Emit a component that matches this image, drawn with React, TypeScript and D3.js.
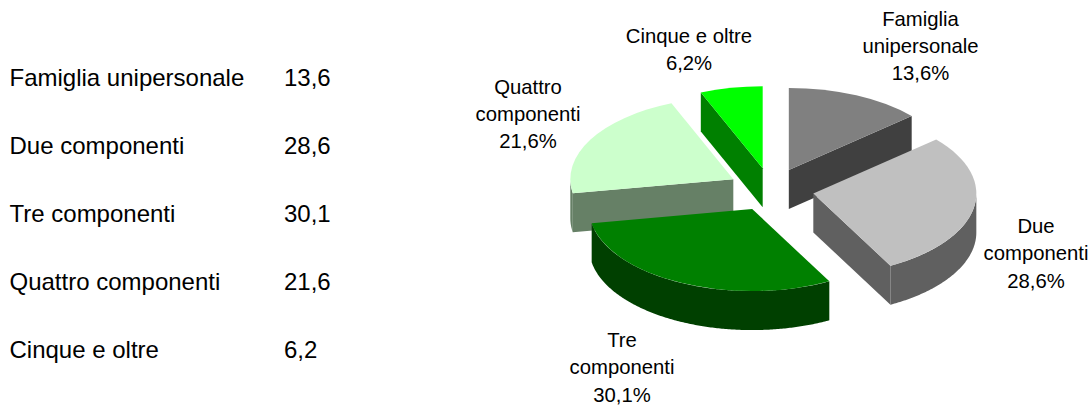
import * as d3 from 'd3'

const categories = ['Famiglia unipersonale', 'Due componenti', 'Tre componenti', 'Quattro componenti', 'Cinque e oltre']
const values = [13.6, 28.6, 30.1, 21.6, 6.2]
const tableLabels = ['13,6', '28,6', '30,1', '21,6', '6,2']
const pieLabels = [
  ['Famiglia', 'unipersonale', '13,6%'],
  ['Due', 'componenti', '28,6%'],
  ['Tre', 'componenti', '30,1%'],
  ['Quattro', 'componenti', '21,6%'],
  ['Cinque e oltre', '6,2%'],
]
const topColors = ['#808080', '#c0c0c0', '#008000', '#ccffcc', '#00ff00']
const wallColors = ['#404040', '#606060', '#004000', '#668066', '#008000']
// label centre x and first baseline
const labelPos = [
  [920.5, 25.5],
  [1036, 233],
  [622, 347],
  [528, 93.5],
  [689, 43],
]
const drawOrder = [4, 0, 3, 1, 2]

const width = 1091
const height = 406
const cx = 771
const cy = 189.6
const rx = 163
const ry = 82
const depth = 39
const explode = 0.264
const font = '"Liberation Sans", Arial, sans-serif'

const arcs = d3.pie<number>().sort(null)(values)

const rowY = d3.scalePoint<number>().domain(d3.range(categories.length)).range([85.5, 357.5])

const px = (a: number, r = 1) => r * rx * Math.sin(a)
const py = (a: number, r = 1) => -r * ry * Math.cos(a)

const Slice = ({ i }: { i: number }) => {
  const { startAngle: a0, endAngle: a1 } = arcs[i]
  const mid = (a0 + a1) / 2
  const ox = cx + px(mid, explode)
  const oy = cy + py(mid, explode)

  const top = d3.arc()({ innerRadius: 0, outerRadius: rx, startAngle: a0, endAngle: a1 }) as string

  // outer rim, only the part that faces the viewer
  const lo = Math.max(a0, Math.PI / 2)
  const hi = Math.min(a1, (3 * Math.PI) / 2)
  const rim = d3
    .area<number>()
    .x(a => px(a))
    .y0(a => py(a))
    .y1(a => py(a) + depth)
  const rimPath = lo < hi ? rim(d3.range(lo, hi, 0.01).concat(hi)) : null

  const wall = d3.line()
  const radial = (a: number) =>
    wall([
      [0, 0],
      [px(a), py(a)],
      [px(a), py(a) + depth],
      [0, depth],
    ]) + 'Z'

  return (
    <g transform={`translate(${ox},${oy})`}>
      {Math.sin(a0) < 0 && <path d={radial(a0)} fill={wallColors[i]} />}
      {Math.sin(a1) > 0 && <path d={radial(a1)} fill={wallColors[i]} />}
      {rimPath && <path d={rimPath} fill={wallColors[i]} />}
      <path d={top} transform={`scale(1,${ry / rx})`} fill={topColors[i]} />
    </g>
  )
}

export default function App() {
  return (
    <svg
      width={width}
      height={height}
      viewBox={`0 0 ${width} ${height}`}
      style={{ position: 'absolute', left: 0, top: 0, background: '#fff' }}
      fontFamily={font}
    >
      {categories.map((c, i) => (
        <g key={c} fontSize={24}>
          <text x={9.5} y={rowY(i)}>{c}</text>
          <text x={284} y={rowY(i)}>{tableLabels[i]}</text>
        </g>
      ))}
      {drawOrder.map(i => (
        <Slice key={i} i={i} />
      ))}
      {pieLabels.map((lines, i) => (
        <text key={i} textAnchor="middle" fontSize={20.3}>
          {lines.map((l, j) => (
            <tspan key={j} x={labelPos[i][0]} y={labelPos[i][1] + j * 27.4}>{l}</tspan>
          ))}
        </text>
      ))}
    </svg>
  )
}
